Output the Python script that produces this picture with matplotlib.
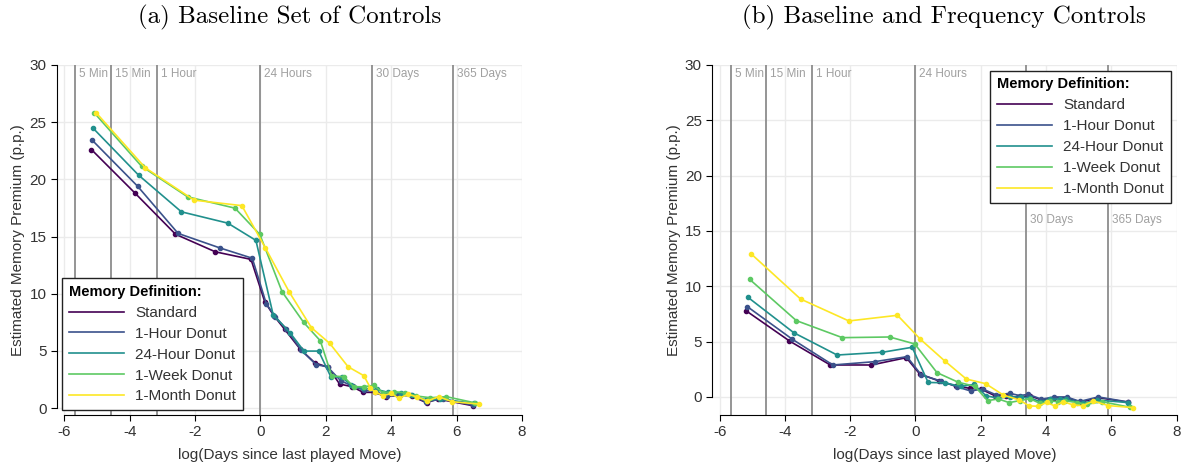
import matplotlib
matplotlib.use("Agg")
import matplotlib.pyplot as plt
import numpy as np

plt.rcParams['font.family'] = ['Liberation Sans', 'DejaVu Sans']
plt.rcParams['axes.unicode_minus'] = False

series_names = ["Standard", "1-Hour Donut", "24-Hour Donut", "1-Week Donut", "1-Month Donut"]
colors = ["#440154", "#3b528b", "#21908d", "#5dc963", "#fde725"]

# ---------------- Panel (a) ----------------
a_std_x = [-5.17, -3.84, -2.60, -1.38, -0.29, 0.13, 0.41, 0.74, 1.22, 1.66, 2.07, 2.42, 2.81, 3.14, 3.50, 3.83, 4.26, 4.62, 5.08, 5.43, 6.50]
a_std_y = [22.6, 18.8, 15.2, 13.66, 13.0, 9.3, 8.07, 6.88, 5.13, 3.96, 3.56, 2.1, 1.86, 1.37, 1.37, 0.99, 1.14, 1.05, 0.46, 0.79, 0.2]
a_1h_x = [-5.14, -3.76, -2.52, -1.24, -0.25, 0.18, 0.45, 0.78, 1.25, 1.70, 2.05, 2.45, 2.82, 3.18, 3.52, 3.86, 4.22, 4.60, 5.05, 5.58, 6.50]
a_1h_y = [23.4, 19.4, 15.27, 14.0, 13.1, 9.1, 8.0, 6.95, 5.05, 3.8, 3.6, 2.4, 1.9, 1.55, 1.45, 1.05, 1.1, 1.15, 0.55, 0.8, 0.25]
a_24h_x = [-5.13, -3.73, -2.42, -1.00, -0.14, 0.39, 0.90, 1.33, 1.78, 2.15, 2.48, 2.78, 3.14, 3.55, 3.90, 4.31, 4.62, 5.06, 5.48, 6.52]
a_24h_y = [24.5, 20.37, 17.16, 16.17, 14.66, 8.13, 6.6, 4.98, 4.98, 2.74, 2.7, 2.0, 1.72, 1.63, 1.37, 1.28, 1.14, 0.7, 0.79, 0.41]
a_1w_x = [-5.08, -3.64, -2.23, -0.78, -0.02, 0.66, 1.32, 1.83, 2.18, 2.55, 2.85, 3.16, 3.46, 3.75, 4.09, 4.41, 4.77, 5.20, 5.69, 6.55]
a_1w_y = [25.8, 21.15, 18.47, 17.48, 15.18, 10.17, 7.49, 5.88, 2.8, 2.74, 1.86, 1.86, 1.98, 1.34, 1.43, 1.34, 1.05, 0.9, 0.99, 0.46]
a_1m_x = [-5.02, -3.52, -2.03, -0.57, 0.15, 0.875, 1.56, 2.12, 2.68, 3.16, 3.36, 3.49, 3.75, 4.00, 4.23, 4.51, 4.80, 5.10, 5.45, 5.87, 6.67]
a_1m_y = [25.8, 21.0, 18.18, 17.7, 14.0, 10.17, 7.02, 5.65, 3.61, 2.83, 1.78, 1.43, 1.08, 1.28, 0.85, 1.2, 0.96, 0.61, 0.99, 0.55, 0.35]

# ---------------- Panel (b) ----------------
b_std_x = [-5.18, -3.86, -2.61, -1.35, -0.28, 0.13, 0.72, 1.24, 1.67, 2.02, 2.43, 2.79, 3.15, 3.50, 3.86, 4.24, 4.63, 5.06, 5.60, 6.52]
b_std_y = [7.77, 5.06, 2.89, 2.89, 3.55, 2.08, 1.45, 0.99, 0.78, 0.69, 0.12, 0.12, -0.03, 0.12, -0.27, -0.06, -0.06, -0.48, -0.06, -0.48]
b_1h_x = [-5.15, -3.77, -2.53, -1.25, -0.26, 0.18, 0.77, 1.26, 1.69, 2.06, 2.48, 2.89, 3.20, 3.45, 3.86, 4.24, 4.63, 5.04, 5.60, 6.52]
b_1h_y = [8.16, 5.21, 2.89, 3.19, 3.64, 1.99, 1.45, 0.93, 0.54, 0.72, 0.18, 0.33, 0.12, 0.24, -0.2, 0.0, 0.0, -0.4, 0.0, -0.45]
b_24h_x = [-5.13, -3.73, -2.40, -1.01, -0.10, 0.39, 0.90, 1.39, 1.79, 2.16, 2.53, 2.89, 3.22, 3.50, 3.81, 4.12, 4.42, 4.60, 5.14, 5.55, 6.52]
b_24h_y = [9.0, 5.81, 3.79, 4.04, 4.49, 1.31, 1.28, 0.95, 1.13, 0.12, -0.12, 0.03, -0.03, -0.06, -0.42, -0.21, -0.18, -0.18, -0.57, -0.27, -0.51]
b_1w_x = [-5.08, -3.65, -2.24, -0.79, -0.02, 0.66, 1.31, 1.82, 2.21, 2.54, 2.87, 3.20, 3.50, 3.81, 4.12, 4.37, 4.58, 4.94, 5.25, 5.71, 6.57]
b_1w_y = [10.63, 6.9, 5.36, 5.42, 4.79, 2.2, 1.33, 0.96, -0.33, -0.18, -0.51, -0.33, -0.15, -0.57, -0.36, -0.42, -0.33, -0.51, -0.66, -0.42, -0.93]
b_1m_x = [-5.03, -3.52, -2.04, -0.55, 0.15, 0.90, 1.56, 2.15, 2.69, 3.18, 3.49, 3.76, 4.02, 4.27, 4.53, 4.83, 5.14, 5.45, 5.91, 6.67]
b_1m_y = [12.92, 8.85, 6.87, 7.38, 5.22, 3.25, 1.62, 1.2, 0.18, -0.27, -0.81, -0.84, -0.5, -0.81, -0.42, -0.72, -0.78, -0.36, -0.78, -0.96]

vline_x = [np.log(5 / 1440), np.log(15 / 1440), np.log(1 / 24), 0.0, np.log(30), np.log(365)]
vline_labels = ["5 Min", "15 Min", "1 Hour", "24 Hours", "30 Days", "365 Days"]
a_label_y = [29.75] * 6
b_label_y = [29.75, 29.75, 29.75, 29.75, 16.5, 16.5]

panels = [
    dict(title="(a) Baseline Set of Controls",
         xs=[a_std_x, a_1h_x, a_24h_x, a_1w_x, a_1m_x],
         ys=[a_std_y, a_1h_y, a_24h_y, a_1w_y, a_1m_y],
         ylim=(-0.61, 30), pos=[57 / 1182, 1 - 415 / 466, 465 / 1182, 350 / 466],
         leg=(0.0108, 0.391), lab_y=a_label_y),
    dict(title="(b) Baseline and Frequency Controls",
         xs=[b_std_x, b_1h_x, b_24h_x, b_1w_x, b_1m_x],
         ys=[b_std_y, b_1h_y, b_24h_y, b_1w_y, b_1m_y],
         ylim=(-1.63, 30), pos=[712.3 / 1182, 1 - 415 / 466, 464.2 / 1182, 350 / 466],
         leg=(0.598, 0.984), lab_y=b_label_y),
]

fig = plt.figure(figsize=(11.82, 4.66), dpi=100)

for p in panels:
    ax = fig.add_axes(p["pos"])
    ax.set_xlim(-6.225, 8)
    ax.set_ylim(*p["ylim"])
    ax.set_xticks(np.arange(-6, 9, 2))
    ax.set_yticks(np.arange(0, 31, 5))
    ax.grid(True, color="#ebebeb", lw=1.0, zorder=0)
    ax.set_axisbelow(True)
    for s in ["top", "right"]:
        ax.spines[s].set_visible(False)
    ax.spines["bottom"].set_bounds(-6, 8)
    ax.spines["left"].set_bounds(0, 30)
    ax.spines["left"].set_color("black")
    ax.spines["bottom"].set_color("black")
    ax.tick_params(axis="both", labelsize=11, labelcolor="#333333", color="black", length=4, width=0.8)

    for vx, lab, ly in zip(vline_x, vline_labels, p["lab_y"]):
        ax.axvline(vx, color="#8c8c8c", lw=1.3, zorder=1)
        ax.text(vx + 0.12, ly, lab, fontsize=8.5, color="#a0a0a0", va="top", ha="left", zorder=1)

    handles = []
    for name, c, x, y in zip(series_names, colors, p["xs"], p["ys"]):
        h, = ax.plot(x, y, color=c, lw=1.2, marker="o", ms=3, zorder=3, label=name)
        handles.append(h)

    leg = ax.legend(handles=handles, loc="upper left", bbox_to_anchor=p["leg"],
                    title="Memory Definition:", fontsize=11, title_fontsize=10.5,
                    frameon=True, fancybox=False, edgecolor="#222222", framealpha=1,
                    handlelength=3.6, handletextpad=0.75, labelspacing=0.45,
                    borderpad=0.45, borderaxespad=0)
    leg.get_frame().set_linewidth(1.0)
    leg.get_title().set_fontweight("bold")
    leg._legend_box.align = "left"
    for t in leg.get_texts():
        t.set_color("#333333")
    for lh in leg.get_lines():
        lh.set_marker("")
        lh.set_linewidth(1.2)

    ax.set_xlabel("log(Days since last played Move)", fontsize=11, color="#333333", labelpad=6)
    ax.set_ylabel("Estimated Memory Premium (p.p.)", fontsize=11, color="#333333", labelpad=3)
    cx = p["pos"][0] + p["pos"][2] / 2
    fig.text(cx, 1 - 17 / 466, p["title"], fontsize=18, fontfamily="cmr10", ha="center", va="center")

fig.savefig("out.png", dpi=100)
